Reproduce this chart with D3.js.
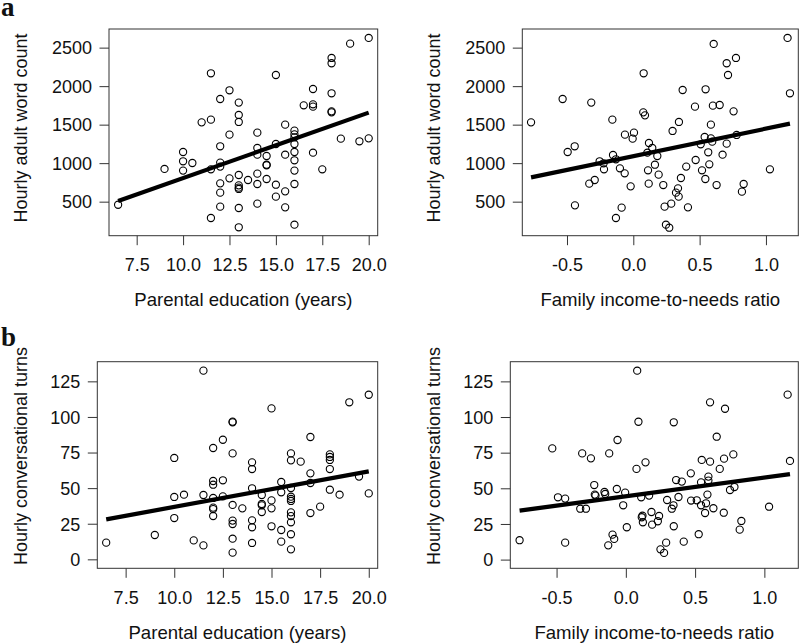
<!DOCTYPE html>
<html>
<head>
<meta charset="utf-8">
<script src="https://cdn.jsdelivr.net/npm/d3@7"></script>
<style>
  html, body { margin: 0; padding: 0; background: #fff; }
  svg { display: block; }
  text { font-family: "Liberation Sans", Arial, Helvetica, sans-serif; fill: #111; }
</style>
</head>
<body>
<svg id="chart" width="800" height="643"></svg>
<script>
// ---------- DATA ----------
// Panel a (left): parental education vs hourly adult word count
const eduA = [6.5, 9, 10, 10, 10, 10.5, 11, 11.5, 11.5, 11.5, 11.5, 12, 12, 12, 12, 12, 12, 12, 12.5, 12.5, 12.5, 13, 13, 13, 13, 13, 13, 13, 13, 13, 13.5, 14, 14, 14, 14, 14, 14, 14.5, 14.5, 14.5, 14.5, 15, 15, 15, 15, 15.5, 15.5, 15.5, 15.5, 16, 16, 16, 16, 16, 16, 16, 16, 16, 16.5, 17, 17, 17, 17, 17.5, 18, 18, 18, 18, 18, 18.5, 19, 19.5, 20, 20];
const wordsA = [460, 925, 1145, 1024, 903, 1002, 1530, 2167, 1565, 920, 288, 1833, 1219, 1007, 955, 738, 617, 435, 1946, 1370, 803, 1786, 1626, 1535, 846, 712, 682, 665, 418, 167, 781, 1396, 1197, 1110, 864, 729, 474, 1093, 980, 972, 794, 2145, 1249, 720, 565, 1500, 1110, 634, 426, 1422, 1374, 1335, 1249, 1145, 1037, 903, 729, 201, 1751, 1963, 1764, 1734, 1136, 920, 2366, 2297, 1907, 1673, 1660, 1318, 2552, 1284, 2626, 1322];
const fitA = [509, 1656];   // fitted value at min and max x

// Panel a (right): income-to-needs vs hourly adult word count
const incB = [-0.771, -0.533, -0.495, -0.442, -0.440, -0.332, -0.317, -0.291, -0.254, -0.224, -0.221, -0.158, -0.153, -0.131, -0.131, -0.101, -0.088, -0.065, -0.063, -0.020, -0.005, 0.005, 0.078, 0.075, 0.088, 0.111, 0.116, 0.118, 0.106, 0.143, 0.163, 0.181, 0.191, 0.226, 0.236, 0.246, 0.271, 0.286, 0.296, 0.322, 0.337, 0.342, 0.344, 0.359, 0.372, 0.399, 0.412, 0.465, 0.470, 0.508, 0.518, 0.538, 0.543, 0.545, 0.565, 0.573, 0.585, 0.585, 0.595, 0.600, 0.606, 0.628, 0.651, 0.673, 0.704, 0.704, 0.714, 0.756, 0.774, 0.779, 0.819, 0.832, 1.030, 1.163, 1.181];
const wordsB = [1530, 1833, 1145, 1219, 452, 734, 1786, 781, 1024, 998, 920, 1565, 1106, 1050, 288, 933, 422, 868, 1370, 699, 1318, 1396, 2167, 1660, 1621, 907, 734, 1262, 1136, 1197, 980, 1093, 851, 716, 435, 201, 162, 474, 1418, 617, 673, 565, 1535, 807, 1950, 955, 426, 1734, 1041, 1245, 907, 1340, 794, 1959, 1141, 985, 1500, 1322, 1279, 1747, 2548, 716, 1755, 1110, 2297, 1253, 2145, 1673, 2366, 1366, 630, 729, 920, 2626, 1907];
const fitB = [816, 1513];

// Panel b (left): parental education vs hourly conversational turns
const eduC = [6.5, 9, 10, 10, 10, 10.5, 11, 11.5, 11.5, 11.5, 12, 12, 12, 12, 12, 12, 12, 12.5, 12.5, 12.5, 13, 13, 13, 13, 13, 13, 13, 13, 13.5, 14, 14, 14, 14, 14, 14, 14.5, 14.5, 14.5, 14.5, 15, 15, 15, 15, 15.5, 15.5, 15.5, 15.5, 16, 16, 16, 16, 16, 16, 16, 16, 16, 16, 16, 16.5, 17, 17, 17, 17, 17.5, 18, 18, 18, 18, 18, 18.5, 19, 19.5, 20, 20];
const turnsC = [11.7, 17.1, 71.2, 43.8, 29.0, 45.4, 13.3, 132.5, 45.2, 9.8, 78.2, 55.0, 52.4, 43.1, 36.3, 35.3, 30.4, 84.0, 55.5, 44.2, 96.7, 96.2, 74.4, 38.2, 27.2, 24.8, 14.5, 4.7, 35.8, 68.1, 63.4, 49.9, 27.4, 22.5, 11.5, 45.2, 38.9, 37.9, 33.2, 106.0, 41.4, 35.8, 23.2, 54.3, 47.1, 20.6, 12.4, 74.4, 69.5, 50.1, 44.0, 42.4, 41.0, 33.0, 30.4, 26.0, 17.6, 7.0, 68.6, 85.9, 60.4, 53.6, 32.5, 37.0, 73.7, 71.9, 69.8, 63.4, 48.9, 45.4, 110.3, 58.1, 115.6, 46.3];
const fitC = [28.1, 61.8];

// Panel b (right): income-to-needs vs hourly conversational turns
const incD = [-0.767, -0.531, -0.490, -0.438, -0.438, -0.329, -0.315, -0.288, -0.252, -0.228, -0.224, -0.219, -0.154, -0.149, -0.127, -0.120, -0.096, -0.084, -0.065, -0.060, -0.019, -0.005, 0.007, 0.077, 0.082, 0.091, 0.111, 0.115, 0.120, 0.123, 0.142, 0.168, 0.185, 0.190, 0.231, 0.240, 0.250, 0.276, 0.291, 0.298, 0.332, 0.344, 0.346, 0.346, 0.363, 0.380, 0.404, 0.418, 0.469, 0.471, 0.512, 0.526, 0.543, 0.543, 0.548, 0.572, 0.579, 0.589, 0.596, 0.596, 0.608, 0.608, 0.632, 0.656, 0.678, 0.707, 0.709, 0.716, 0.752, 0.776, 0.784, 0.822, 0.834, 1.034, 1.168, 1.185];
const turnsD = [13.6, 78.0, 43.7, 42.8, 11.9, 35.7, 74.5, 35.7, 71.0, 52.3, 45.6, 44.9, 47.4, 46.0, 10.0, 74.5, 17.5, 14.5, 49.5, 83.9, 38.1, 47.0, 22.7, 63.6, 132.5, 96.7, 43.7, 29.7, 30.8, 26.2, 68.2, 44.9, 33.4, 24.5, 26.9, 30.6, 7.2, 4.7, 11.9, 41.8, 35.7, 38.1, 96.3, 23.4, 55.8, 43.9, 54.7, 12.6, 60.5, 41.4, 41.6, 17.8, 54.2, 38.1, 69.9, 32.7, 39.5, 45.6, 58.2, 55.4, 68.7, 110.3, 36.0, 86.2, 63.6, 32.9, 70.8, 105.8, 48.8, 73.8, 50.9, 21.0, 27.1, 37.1, 115.7, 69.2];
const fitD = [34.3, 60.0];

// Tick values and labels
const eduTicks = [7.5, 10, 12.5, 15, 17.5, 20];
const incTicks = [-0.5, 0, 0.5, 1.0];
const wordTicks = [500, 1000, 1500, 2000, 2500];
const turnTicks = [0, 25, 50, 75, 100, 125];
const xTitleEdu = "Parental education (years)";
const xTitleInc = "Family income-to-needs ratio";
const yTitleWords = "Hourly adult word count";
const yTitleTurns = "Hourly conversational turns";
const panelLetters = ["a", "b"];

// ---------- LAYOUT ----------
const f1 = v => v.toFixed(1);          // ASCII hyphen-minus, as in the reference
const f0 = v => String(v);

const panels = [
  { xs: eduA, ys: wordsA, fit: fitA, xDom: [6.009, 20.485], yDom: [58, 2742],
    box: [109, 29, 377.7, 235.7], xTicks: eduTicks, yTicks: wordTicks, xFmt: f1, yFmt: f0,
    xTitle: xTitleEdu, yTitle: yTitleWords, yTitleX: 27, yTitleY: 128 },
  { xs: incB, ys: wordsB, fit: fitB, xDom: [-0.837, 1.244], yDom: [58, 2742],
    box: [522.3, 29, 798.3, 235.7], xTicks: incTicks, yTicks: wordTicks, xFmt: f1, yFmt: f0,
    xTitle: xTitleInc, yTitle: yTitleWords, yTitleX: 440, yTitleY: 128 },
  { xs: eduC, ys: turnsC, fit: fitC, xDom: [6.043, 20.46], yDom: [-6.3, 138.8],
    box: [97.3, 361.7, 377.7, 568.3], xTicks: eduTicks, yTicks: turnTicks, xFmt: f1, yFmt: f0,
    xTitle: xTitleEdu, yTitle: yTitleTurns, yTitleX: 27, yTitleY: 456 },
  { xs: incD, ys: turnsD, fit: fitD, xDom: [-0.834, 1.245], yDom: [-6.1, 138.8],
    box: [510.3, 361.7, 798.3, 568.3], xTicks: incTicks, yTicks: turnTicks, xFmt: f1, yFmt: f0,
    xTitle: xTitleInc, yTitle: yTitleTurns, yTitleX: 440, yTitleY: 456 }
];

const svg = d3.select("#chart");
const FS = 18;
const tickLen = 9.5;

panels.forEach(p => {
  const [x0, y0, x1, y1] = p.box;
  const x = d3.scaleLinear().domain(p.xDom).range([x0, x1]);
  const y = d3.scaleLinear().domain(p.yDom).range([y1, y0]);
  const g = svg.append("g");

  // y axis
  const ya = g.append("g").attr("transform", `translate(${x0},0)`)
    .call(d3.axisLeft(y).tickValues(p.yTicks).tickFormat(p.yFmt).tickSize(tickLen).tickPadding(7.5));
  ya.select(".domain").remove();
  ya.selectAll(".tick line").attr("stroke", "#333").attr("stroke-width", 1);
  ya.selectAll(".tick text").attr("font-size", FS).attr("fill", "#111").attr("dy", "0.35em");

  // x axis
  const xa = g.append("g").attr("transform", `translate(0,${y1})`)
    .call(d3.axisBottom(x).tickValues(p.xTicks).tickFormat(p.xFmt).tickSize(tickLen).tickPadding(7));
  xa.select(".domain").remove();
  xa.selectAll(".tick line").attr("stroke", "#333").attr("stroke-width", 1);
  xa.selectAll(".tick text").attr("font-size", FS).attr("fill", "#111").attr("y", 35.5).attr("dy", 0);

  // box
  g.append("rect").attr("x", x0).attr("y", y0).attr("width", x1 - x0).attr("height", y1 - y0)
    .attr("fill", "none").attr("stroke", "#333").attr("stroke-width", 1);

  // points
  const pts = p.xs.map((v, i) => [v, p.ys[i]]);
  g.append("g").selectAll("circle").data(pts).join("circle")
    .attr("cx", d => x(d[0])).attr("cy", d => y(d[1])).attr("r", 3.6)
    .attr("fill", "none").attr("stroke", "#000").attr("stroke-width", 1.1);

  // regression line
  const xmin = d3.min(p.xs), xmax = d3.max(p.xs);
  g.append("path").datum([[xmin, p.fit[0]], [xmax, p.fit[1]]])
    .attr("d", d3.line().x(d => x(d[0])).y(d => y(d[1])))
    .attr("stroke", "#000").attr("stroke-width", 4.2).attr("fill", "none");

  // x title
  g.append("text").attr("x", (x0 + x1) / 2).attr("y", y1 + 70.3)
    .attr("text-anchor", "middle").attr("font-size", 18.6).text(p.xTitle);

  // y title
  g.append("text").attr("transform", `translate(${p.yTitleX},${p.yTitleY}) rotate(-90)`)
    .attr("text-anchor", "middle").attr("font-size", FS).text(p.yTitle);
});

// panel letters
svg.append("text").attr("x", 1).attr("y", 16).attr("font-size", 27)
  .attr("font-weight", "bold").style("font-family", "'Liberation Serif', 'Times New Roman', serif").text(panelLetters[0]);
svg.append("text").attr("x", 1).attr("y", 346).attr("font-size", 27)
  .attr("font-weight", "bold").style("font-family", "'Liberation Serif', 'Times New Roman', serif").text(panelLetters[1]);
</script>
</body>
</html>
